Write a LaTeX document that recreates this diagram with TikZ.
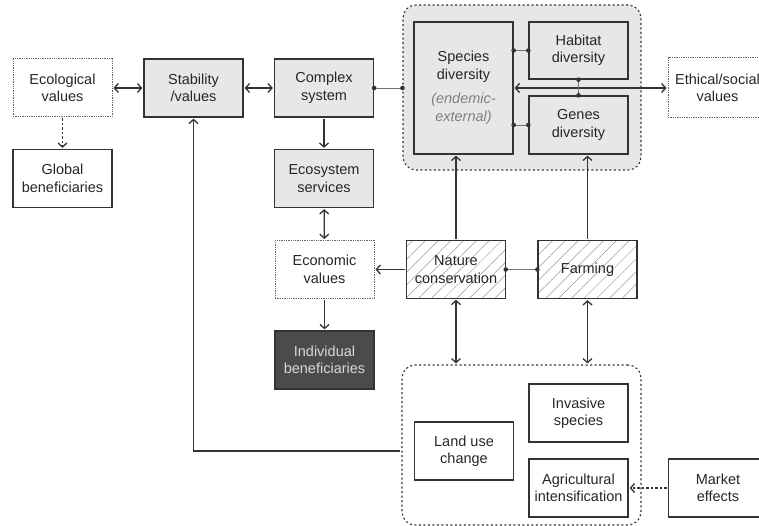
\documentclass[tikz,border=0pt]{standalone}
\usepackage{fontspec}
\setmainfont{Liberation Sans}
\usetikzlibrary{arrows.meta,patterns.meta}

\definecolor{boxline}{HTML}{333333}
\definecolor{boxfill}{HTML}{E7E7E7}
\definecolor{darkfill}{HTML}{4B4B4B}
\definecolor{darktext}{HTML}{D8D8D8}

\tikzset{
  box/.style={draw=boxline,line width=1.3pt,minimum width=99pt,minimum height=58pt,align=center,inner sep=2pt,text=black!85},
  graybox/.style={box,fill=boxfill},
  dotbox/.style={box,draw=black!60,densely dotted,line width=1pt},
  hatchbox/.style={box,pattern={Lines[angle=45,distance=9pt,line width=0.5pt]},pattern color=black!40},
  darkbox/.style={box,fill=darkfill,text=darktext},
  groupbox/.style={draw=boxline,dash pattern=on 2pt off 2.5pt,line width=1.1pt,rounded corners=13pt},
  link/.style={draw=black!55,line width=0.8pt},
  arr/.style={draw=boxline,line width=1.3pt,shorten >=1pt,shorten <=1pt}
}

\begin{document}
\begin{tikzpicture}[x=1pt,y=-1pt,font=\fontsize{14.5}{17.5}\selectfont,>={Straight Barb[length=4pt,width=9pt]}]
\useasboundingbox (0,0) rectangle (759,526);
% groups
\node[groupbox,fill=boxfill,minimum width=238pt,minimum height=165pt] (topgrp) at (522,87.5) {};
\node[groupbox,minimum width=239pt,minimum height=160pt] (lowgrp) at (521.5,445) {};
% left column
\node[dotbox] (eco) at (62.5,88) {Ecological\\values};
\node[box] (glob) at (62.5,178.5) {Global\\beneficiaries};
\node[graybox] (stab) at (193.5,88) {Stability\\/values};
\node[graybox] (cplx) at (324,88) {Complex\\system};
\node[graybox] (ecos) at (324,178.5) {Ecosystem\\services};
\node[dotbox] (econ) at (324.5,269.5) {Economic\\values};
\node[darkbox] (indiv) at (324.5,360) {Individual\\beneficiaries};
% diversity
\node[graybox,minimum height=132pt] (species) at (463.5,88) {Species\\diversity\\[7pt]{\color{black!50}\itshape (endemic-}\\{\color{black!50}\itshape external)}};
\node[graybox,minimum height=57pt] (habitat) at (578.5,50.5) {Habitat\\diversity};
\node[graybox] (genes) at (578.5,125) {Genes\\diversity};
\node[dotbox,minimum height=60pt] (ethic) at (717.5,88) {Ethical/social\\values};
% drivers
\node[hatchbox] (natcon) at (456,269.5) {Nature\\conservation};
\node[hatchbox] (farm) at (587.5,269.5) {Farming};
\node[box] (invas) at (578.5,413) {Invasive\\species};
\node[box] (landuse) at (464,451) {Land use\\change};
\node[box] (agri) at (578.5,488) {Agricultural\\intensification};
\node[box] (market) at (718,488) {Market\\effects};

\draw[arr,<->] (eco) -- (stab);
\draw[arr,<->] (stab) -- (cplx);
\draw[arr,->,dash pattern=on 2.5pt off 2pt] (eco) -- (glob);
\draw[arr,->] (cplx) -- (ecos);
\draw[arr,<->] (ecos) -- (econ);
\draw[arr,->] (econ) -- (indiv);
\draw[arr,->] (natcon) -- (econ);
\draw[arr,<->] (species) -- (ethic);
\draw[arr,->] (natcon.north) -- (natcon |- species.south);
\draw[arr,->] (farm.north) -- (farm |- genes.south);
\draw[arr,<->] (natcon.south) -- (natcon |- lowgrp.north);
\draw[arr,<->] (farm.south) -- (farm |- lowgrp.north);
\draw[arr,->,dash pattern=on 2.5pt off 2pt] (market) -- (agri);
\draw[arr,->] (lowgrp.west |- landuse) -| (stab.south);

% dotted links
\draw[link] (cplx.east) -- (cplx.east -| topgrp.west);
\draw[link] (species.east |- habitat.west) -- (habitat.west);
\draw[link] (species.east |- genes.west) -- (genes.west);
\draw[link] (habitat.south) -- (genes.north);
\draw[link] (natcon.east) -- (farm.west);
\foreach \pt in {cplx.east,habitat.west,genes.west,habitat.south,genes.north,natcon.east,farm.west}
  \fill[boxline] (\pt) circle (2.3pt);
\fill[boxline] (cplx.east -| topgrp.west) circle (2.3pt);
\fill[boxline] (species.east |- habitat.west) circle (2.3pt);
\fill[boxline] (species.east |- genes.west) circle (2.3pt);
\end{tikzpicture}
\end{document}
